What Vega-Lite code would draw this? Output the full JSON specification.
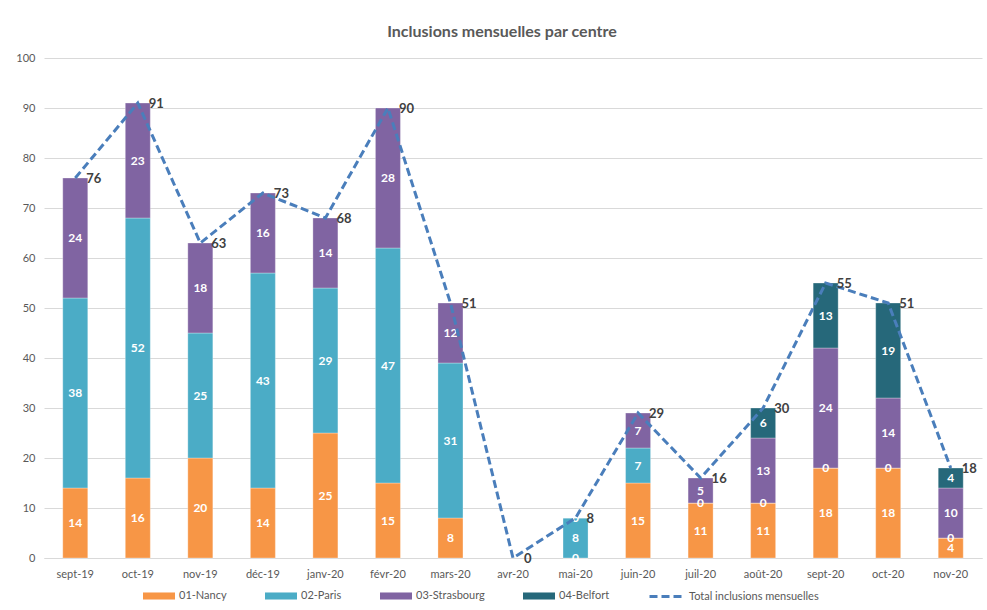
{
  "$schema": "https://vega.github.io/schema/vega-lite/v6.json",
  "width": 938,
  "height": 500,
  "autosize": {"type": "none"},
  "padding": {"left": 44, "top": 58, "right": 5, "bottom": 52},
  "background": "white",
  "config": {
    "font": "Lato",
    "view": {"stroke": null},
    "axis": {"labelFont": "Lato", "labelFontSize": 11, "labelColor": "#595959"},
    "legend": {"labelFont": "Lato", "labelFontSize": 11, "labelColor": "#595959"}
  },
  "title": {
    "text": "Inclusions mensuelles par centre",
    "fontSize": 16,
    "fontWeight": "bold",
    "color": "#595959",
    "anchor": "middle",
    "dx": -11,
    "offset": 12
  },
  "datasets": {
    "centres": [
      {"month": "sept-19", "centre": "01-Nancy", "n": 14},
      {"month": "sept-19", "centre": "02-Paris", "n": 38},
      {"month": "sept-19", "centre": "03-Strasbourg", "n": 24},
      {"month": "oct-19", "centre": "01-Nancy", "n": 16},
      {"month": "oct-19", "centre": "02-Paris", "n": 52},
      {"month": "oct-19", "centre": "03-Strasbourg", "n": 23},
      {"month": "nov-19", "centre": "01-Nancy", "n": 20},
      {"month": "nov-19", "centre": "02-Paris", "n": 25},
      {"month": "nov-19", "centre": "03-Strasbourg", "n": 18},
      {"month": "déc-19", "centre": "01-Nancy", "n": 14},
      {"month": "déc-19", "centre": "02-Paris", "n": 43},
      {"month": "déc-19", "centre": "03-Strasbourg", "n": 16},
      {"month": "janv-20", "centre": "01-Nancy", "n": 25},
      {"month": "janv-20", "centre": "02-Paris", "n": 29},
      {"month": "janv-20", "centre": "03-Strasbourg", "n": 14},
      {"month": "févr-20", "centre": "01-Nancy", "n": 15},
      {"month": "févr-20", "centre": "02-Paris", "n": 47},
      {"month": "févr-20", "centre": "03-Strasbourg", "n": 28},
      {"month": "mars-20", "centre": "01-Nancy", "n": 8},
      {"month": "mars-20", "centre": "02-Paris", "n": 31},
      {"month": "mars-20", "centre": "03-Strasbourg", "n": 12},
      {"month": "mai-20", "centre": "01-Nancy", "n": 0},
      {"month": "mai-20", "centre": "02-Paris", "n": 8},
      {"month": "mai-20", "centre": "03-Strasbourg", "n": 0},
      {"month": "juin-20", "centre": "01-Nancy", "n": 15},
      {"month": "juin-20", "centre": "02-Paris", "n": 7},
      {"month": "juin-20", "centre": "03-Strasbourg", "n": 7},
      {"month": "juil-20", "centre": "01-Nancy", "n": 11},
      {"month": "juil-20", "centre": "02-Paris", "n": 0},
      {"month": "juil-20", "centre": "03-Strasbourg", "n": 5},
      {"month": "août-20", "centre": "01-Nancy", "n": 11},
      {"month": "août-20", "centre": "02-Paris", "n": 0},
      {"month": "août-20", "centre": "03-Strasbourg", "n": 13},
      {"month": "août-20", "centre": "04-Belfort", "n": 6},
      {"month": "sept-20", "centre": "01-Nancy", "n": 18},
      {"month": "sept-20", "centre": "02-Paris", "n": 0},
      {"month": "sept-20", "centre": "03-Strasbourg", "n": 24},
      {"month": "sept-20", "centre": "04-Belfort", "n": 13},
      {"month": "oct-20", "centre": "01-Nancy", "n": 18},
      {"month": "oct-20", "centre": "02-Paris", "n": 0},
      {"month": "oct-20", "centre": "03-Strasbourg", "n": 14},
      {"month": "oct-20", "centre": "04-Belfort", "n": 19},
      {"month": "nov-20", "centre": "01-Nancy", "n": 4},
      {"month": "nov-20", "centre": "02-Paris", "n": 0},
      {"month": "nov-20", "centre": "03-Strasbourg", "n": 10},
      {"month": "nov-20", "centre": "04-Belfort", "n": 4}
    ],
    "totals": [
      {"month": "sept-19", "total": 76, "serie": "Total inclusions mensuelles"},
      {"month": "oct-19", "total": 91, "serie": "Total inclusions mensuelles"},
      {"month": "nov-19", "total": 63, "serie": "Total inclusions mensuelles"},
      {"month": "déc-19", "total": 73, "serie": "Total inclusions mensuelles"},
      {"month": "janv-20", "total": 68, "serie": "Total inclusions mensuelles"},
      {"month": "févr-20", "total": 90, "serie": "Total inclusions mensuelles"},
      {"month": "mars-20", "total": 51, "serie": "Total inclusions mensuelles"},
      {"month": "avr-20", "total": 0, "serie": "Total inclusions mensuelles"},
      {"month": "mai-20", "total": 8, "serie": "Total inclusions mensuelles"},
      {"month": "juin-20", "total": 29, "serie": "Total inclusions mensuelles"},
      {"month": "juil-20", "total": 16, "serie": "Total inclusions mensuelles"},
      {"month": "août-20", "total": 30, "serie": "Total inclusions mensuelles"},
      {"month": "sept-20", "total": 55, "serie": "Total inclusions mensuelles"},
      {"month": "oct-20", "total": 51, "serie": "Total inclusions mensuelles"},
      {"month": "nov-20", "total": 18, "serie": "Total inclusions mensuelles"}
    ]
  },
  "encoding": {
    "x": {
      "field": "month",
      "type": "ordinal",
      "sort": ["sept-19", "oct-19", "nov-19", "déc-19", "janv-20", "févr-20", "mars-20", "avr-20", "mai-20", "juin-20", "juil-20", "août-20", "sept-20", "oct-20", "nov-20"],
      "scale": {
        "domain": ["sept-19", "oct-19", "nov-19", "déc-19", "janv-20", "févr-20", "mars-20", "avr-20", "mai-20", "juin-20", "juil-20", "août-20", "sept-20", "oct-20", "nov-20"],
        "paddingInner": 0.6,
        "paddingOuter": 0.3
      },
      "axis": {
        "title": null,
        "labelAngle": 0,
        "ticks": false,
        "domainColor": "#d9d9d9",
        "domainWidth": 1,
        "labelPadding": 10
      }
    }
  },
  "layer": [
    {
      "data": {"name": "centres"},
      "mark": {"type": "bar", "stroke": "white", "strokeWidth": 0.5, "strokeOpacity": 0.6},
      "encoding": {
        "y": {
          "field": "n",
          "type": "quantitative",
          "aggregate": "sum",
          "stack": "zero",
          "scale": {"domain": [0, 100], "nice": false},
          "axis": {
            "title": null,
            "values": [0, 10, 20, 30, 40, 50, 60, 70, 80, 90, 100],
            "domain": false,
            "ticks": false,
            "gridColor": "#d9d9d9",
            "gridWidth": 1,
            "labelPadding": 9
          }
        },
        "color": {
          "field": "centre",
          "type": "nominal",
          "scale": {
            "domain": ["01-Nancy", "02-Paris", "03-Strasbourg", "04-Belfort"],
            "range": ["#f79646", "#4bacc6", "#8064a2", "#26687a"]
          },
          "legend": {
            "title": null,
            "orient": "none",
            "direction": "horizontal",
            "legendX": 99,
            "legendY": 522,
            "symbolType": "M-1,-0.22H1V0.22H-1Z",
            "symbolSize": 1024,
            "symbolStrokeWidth": 0,
            "labelOffset": 4,
            "columnPadding": 38
          }
        },
        "order": {"field": "centre"}
      }
    },
    {
      "data": {"name": "centres"},
      "transform": [
        {"stack": "n", "groupby": ["month"], "sort": [{"field": "centre"}], "as": ["y0", "y1"]},
        {"fold": ["y0", "y1"], "as": ["edge", "pos"]}
      ],
      "mark": {"type": "text", "color": "white", "fontWeight": "bold", "fontSize": 12, "baseline": "middle", "align": "center"},
      "encoding": {
        "y": {"field": "pos", "type": "quantitative", "aggregate": "mean"},
        "detail": {"field": "centre"},
        "text": {"field": "n", "aggregate": "max", "type": "quantitative"}
      }
    },
    {
      "data": {"name": "totals"},
      "mark": {"type": "line", "color": "#4a7ebb", "strokeWidth": 3},
      "encoding": {
        "y": {"field": "total", "type": "quantitative"},
        "strokeDash": {
          "field": "serie",
          "type": "nominal",
          "scale": {"domain": ["Total inclusions mensuelles"], "range": [[8, 4]]},
          "legend": {
            "title": null,
            "orient": "none",
            "legendX": 604,
            "legendY": 521,
            "symbolType": "stroke",
            "symbolSize": 1024,
            "symbolStrokeWidth": 3,
            "symbolStrokeColor": "#4a7ebb",
            "labelOffset": 6
          }
        }
      }
    },
    {
      "data": {"name": "totals"},
      "mark": {"type": "text", "align": "left", "baseline": "middle", "dx": 11, "dy": 1, "fontSize": 13, "fontWeight": "bold", "color": "#404040"},
      "encoding": {
        "y": {"field": "total", "type": "quantitative"},
        "text": {"field": "total", "type": "quantitative"}
      }
    }
  ]
}
